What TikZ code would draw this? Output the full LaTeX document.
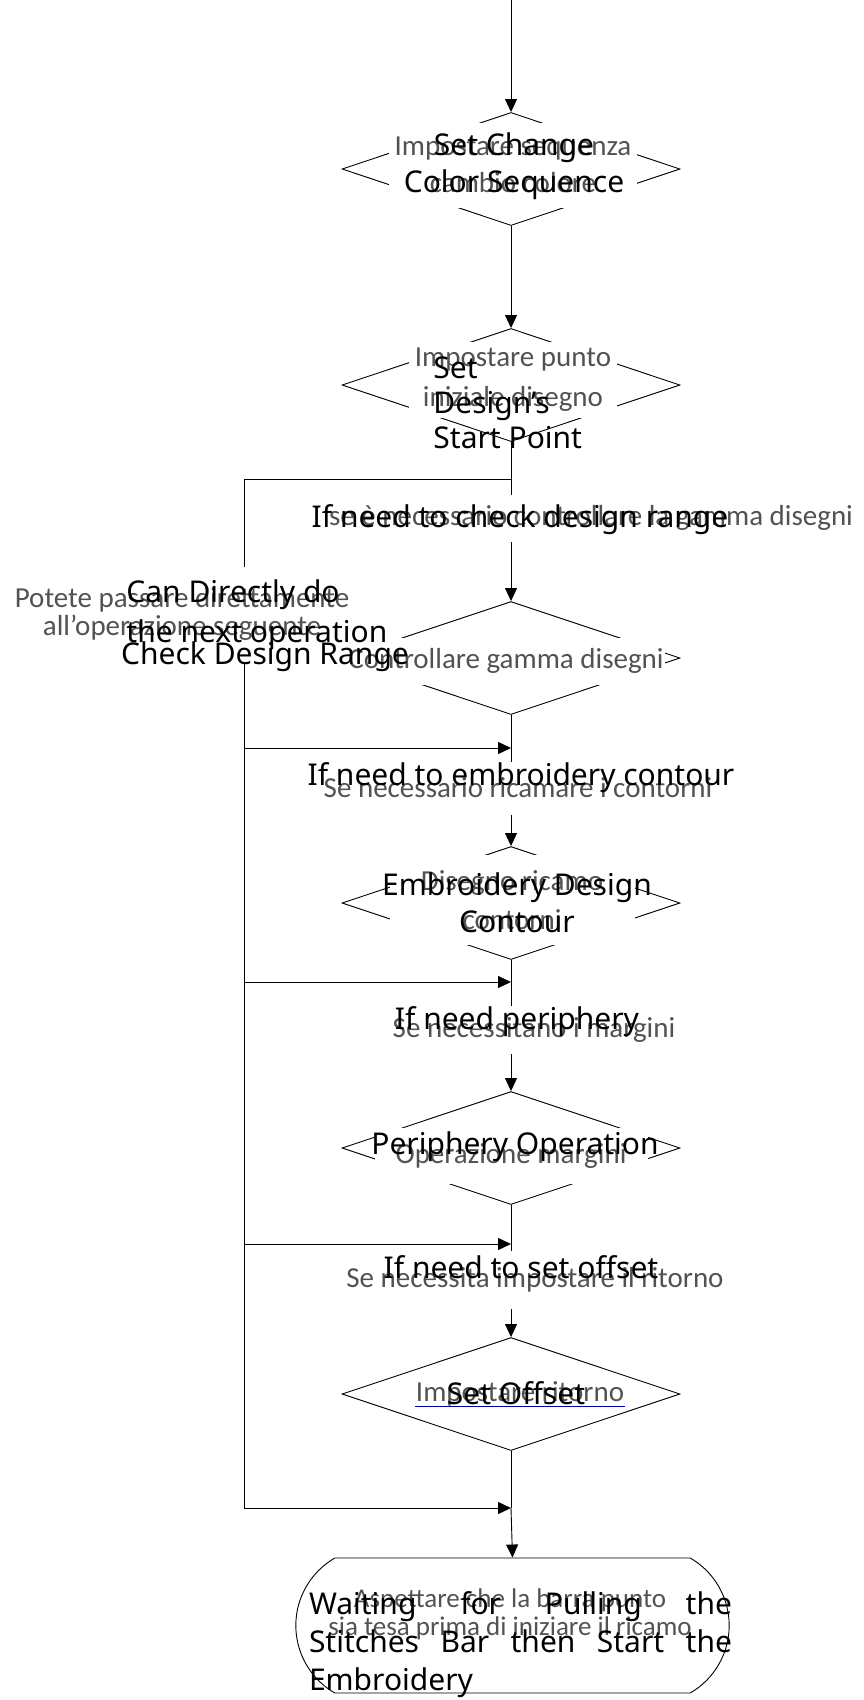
\documentclass[tikz,border=0pt]{standalone}
\usepackage{fontspec}
\setmainfont{Noto Sans}
\newfontfamily\itfont{Carlito}
\usetikzlibrary{arrows.meta,shapes.geometric,shapes.misc}
\tikzset{
  decision/.style={draw,shape=diamond,minimum width=338pt,minimum height=113pt,inner sep=0pt},
  itbox/.style={fill=white,text=black!68,font=\itfont\fontsize{29}{37}\selectfont,align=center,inner sep=6pt},
  enlabel/.style={font=\fontsize{30}{37}\selectfont,align=center,inner sep=0pt},
  arr/.style={-{Triangle[length=13pt,width=12pt]}},
}
\begin{document}
\begin{tikzpicture}[x=1pt,y=-1pt,line width=0.9pt]
            \useasboundingbox (0,0) rectangle (863,1700);
            \coordinate (start) at (511,0);
            \foreach \n/\y in {1/169,2/385,3/658,4/903,5/1148,6/1394}{
                    \node[decision] (d\n) at (511,\y) {};
                }
            \foreach \n/\y in {1/479,2/748,3/982,4/1244,5/1508}{
                    \coordinate (j\n) at (511,\y);
                    \coordinate (k\n) at (244,\y);
                }
            \node[draw,rounded rectangle,rounded rectangle arc length=120,minimum width=440pt,minimum height=135pt] (wait) at (512.5,1625.5) {};
            \draw[arr] (start) -- (d1.north);
            \draw[arr] (d1.south) -- (d2.north);
            \draw (d2.south) -- (j1) -- (k1) -- (k5);
            \draw[arr] (j1) -- (d3.north);
            \draw (d3.south) -- (j2);
            \draw[arr] (j2) -- (d4.north);
            \draw (d4.south) -- (j3);
            \draw[arr] (j3) -- (d5.north);
            \draw (d5.south) -- (j4);
            \draw[arr] (j4) -- (d6.north);
            \draw (d6.south) -- (j5);
            \draw[arr] (j5) -- (wait.north);
            \foreach \n in {2,...,5}
            \draw[arr] (k\n) -- (j\n);
            \node[itbox,minimum width=227pt,minimum height=85pt] (i1) at (513,165) {Impostare sequenza\\cambio colore};
            \node[itbox,minimum width=193pt,minimum height=72pt,font=\itfont\fontsize{29}{40}\selectfont] (i2) at (513,380) {Impostare punto\\iniziale disegno};
            \node[itbox,minimum height=47pt] (q1) at (591,518) {se è necessario controllare la gamma disegni};
            \node[itbox,minimum width=355pt,minimum height=95pt,font=\itfont\fontsize{29}{28}\selectfont] (pass) at (182,614) {Potete passare direttamente\\all’operazione seguente};
            \node[itbox,inner xsep=1pt,minimum height=47pt] (i3) at (506,661) {Controllare gamma disegni};
            \node[itbox,minimum height=53pt] (q2) at (518,788) {Se necessario ricamare i contorni};
            \node[itbox,minimum width=245pt,minimum height=90pt,font=\itfont\fontsize{29}{39}\selectfont] (i4) at (512,900) {Disegno ricamo\\contorni};
            \node[itbox,minimum height=48pt] (q3) at (534,1030) {Se necessitano i margini};
            \node[itbox,minimum width=273pt,minimum height=56pt] (i5) at (511,1156) {Operazione margini};
            \node[itbox,minimum height=58pt] (q4) at (535,1280) {Se necessita impostare il ritorno};
            \node[itbox,inner xsep=0pt] (i6) at (520,1394) {Impostare ritorno};
            \draw[blue!65!black,line width=1.2pt] ([yshift=-5pt]i6.base west) -- ([yshift=-5pt]i6.base east);
            \node[itbox,font=\itfont\fontsize{27}{28}\selectfont] (i7) at (510,1614) {Aspettare che la barra punto\\sia tesa prima di iniziare il ricamo};
            \node[enlabel] (e1) at (514,166) {Set Change\\Color Sequence};
            \node[enlabel,align=left,anchor=west,font=\fontsize{30}{35}\selectfont] (e2) at (433,403) {Set\\Design's\\Start Point};
            \node[enlabel] (c1) at (520,520) {If need to check design range};
            \node[enlabel,align=left,anchor=west,font=\fontsize{30}{40}\selectfont] (skip) at (126,615) {Can Directly do\\the next operation};
            \node[enlabel] (e3) at (265,657) {Check Design Range};
            \node[enlabel] (c2) at (521,778) {If need to embroidery contour};
            \node[enlabel] (e4) at (517,903) {Embroidery Design\\Contour};
            \node[enlabel] (c3) at (517,1022) {If need periphery};
            \node[enlabel] (e5) at (515,1147) {Periphery Operation};
            \node[enlabel] (c4) at (521,1267) {If need to set offset};
            \node[enlabel] (e6) at (516,1393) {Set Offset};
            \node[enlabel,align=left,font=\fontsize{30}{38}\selectfont] (e7) at (520.5,1645) {\makebox[423pt][s]{Waiting for Pulling the}\\\makebox[423pt][s]{Stitches Bar then Start the}\\Embroidery};
        \end{tikzpicture}
\end{document}
